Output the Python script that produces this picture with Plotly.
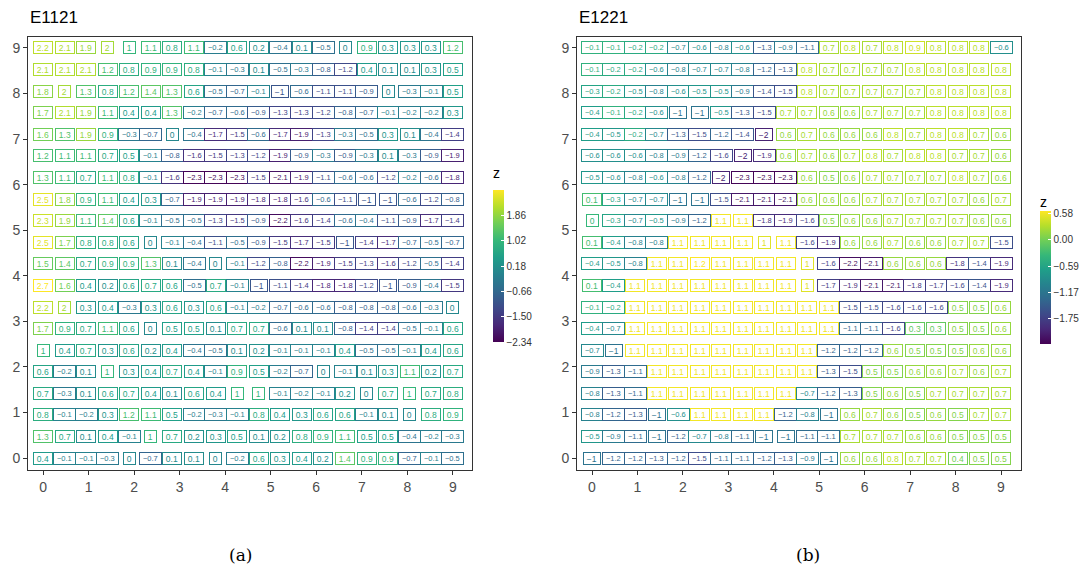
import plotly.graph_objects as go
from plotly.colors import sample_colorscale

# positions of the 20 grid columns / rows (data units)
grid_pos = [0.000, 0.474, 0.947, 1.421, 1.895, 2.368, 2.842, 3.316, 3.789, 4.263,
            4.737, 5.211, 5.684, 6.158, 6.632, 7.105, 7.579, 8.053, 8.526, 9.000]
axis_ticks = [0, 1, 2, 3, 4, 5, 6, 7, 8, 9]

# rows listed from the top (y = 9) to the bottom (y = 0)
e1121 = [
    [2.2, 2.1, 1.9, 2, 1, 1.1, 0.8, 1.1, -0.2, 0.6, 0.2, -0.4, 0.1, -0.5, 0, 0.9, 0.3, 0.3, 0.3, 1.2],
    [2.1, 2.1, 2.1, 1.2, 0.8, 0.9, 0.9, 0.8, -0.1, -0.3, 0.1, -0.5, -0.3, -0.8, -1.2, 0.4, 0.1, 0.1, 0.3, 0.5],
    [1.8, 2, 1.3, 0.8, 1.2, 1.4, 1.3, 0.6, -0.5, -0.7, -0.1, -1, -0.6, -1.1, -1.1, -0.9, 0, -0.3, -0.1, 0.5],
    [1.7, 2.1, 1.9, 1.1, 0.4, 0.4, 1.3, -0.2, -0.7, -0.6, -0.9, -1.3, -1.3, -1.2, -0.8, -0.7, -0.1, -0.2, -0.2, 0.3],
    [1.6, 1.3, 1.9, 0.9, -0.3, -0.7, 0, -0.4, -1.7, -1.5, -0.6, -1.7, -1.9, -1.3, -0.3, -0.5, 0.3, 0.1, -0.4, -1.4],
    [1.2, 1.1, 1.1, 0.7, 0.5, -0.1, -0.8, -1.6, -1.5, -1.3, -1.2, -1.9, -0.9, -0.3, -0.9, -0.3, 0.1, -0.3, -0.9, -1.9],
    [1.3, 1.1, 0.7, 1.1, 0.8, -0.1, -1.6, -2.3, -2.3, -2.3, -1.5, -2.1, -1.9, -1.1, -0.6, -0.6, -1.2, -0.2, -0.6, -1.8],
    [2.5, 1.8, 0.9, 1.1, 0.4, 0.3, -0.7, -1.9, -1.9, -1.9, -1.8, -1.8, -1.6, -0.6, -1.1, -1, -1, -0.6, -1.2, -0.8],
    [2.3, 1.9, 1.1, 1.4, 0.6, -0.1, -0.5, -0.5, -1.3, -1.5, -0.9, -2.2, -1.6, -1.4, -0.6, -0.4, -1.1, -0.9, -1.7, -1.4],
    [2.5, 1.7, 0.8, 0.8, 0.6, 0, -0.1, -0.4, -1.1, -0.5, -0.9, -1.5, -1.7, -1.5, -1, -1.4, -1.7, -0.7, -0.5, -0.7],
    [1.5, 1.4, 0.7, 0.9, 0.9, 1.3, 0.1, -0.4, 0, -0.1, -1.2, -0.8, -2.2, -1.9, -1.5, -1.3, -1.6, -1.2, -0.5, -1.4],
    [2.7, 1.6, 0.4, 0.2, 0.6, 0.7, 0.6, -0.5, 0.7, -0.1, -1, -1.1, -1.4, -1.8, -1.8, -1.2, -1, -0.9, -0.4, -1.5],
    [2.2, 2, 0.3, 0.4, -0.3, 0.3, 0.6, 0.3, 0.6, -0.1, -0.2, -0.7, -0.6, -0.6, -0.8, -0.8, -0.8, -0.6, -0.3, 0],
    [1.7, 0.9, 0.7, 1.1, 0.6, 0, 0.5, 0.5, 0.1, 0.7, 0.7, -0.6, 0.1, 0.1, -0.8, -1.4, -1.4, -0.5, -0.1, 0.6],
    [1, 0.4, 0.7, 0.3, 0.6, 0.2, 0.4, -0.4, -0.5, 0.1, 0.2, -0.1, -0.1, -0.1, 0.4, -0.5, -0.5, -0.1, 0.4, 0.6],
    [0.6, -0.2, 0.1, 1, 0.3, 0.4, 0.7, 0.4, -0.1, 0.9, 0.5, -0.2, -0.7, 0, -0.1, 0.1, 0.3, 1.1, 0.2, 0.7],
    [0.7, -0.3, 0.1, 0.6, 0.7, 0.4, 0.1, 0.6, 0.4, 1, 1, -0.1, -0.2, -0.1, 0.2, 0, 0.7, 1, 0.7, 0.8],
    [0.8, -0.1, -0.2, 0.3, 1.2, 1.1, 0.5, -0.2, -0.3, -0.1, 0.8, 0.4, 0.3, 0.6, 0.6, -0.1, 0.1, 0, 0.8, 0.9],
    [1.3, 0.7, 0.1, 0.4, -0.1, 1, 0.7, 0.2, 0.3, 0.5, 0.1, 0.2, 0.8, 0.9, 1.1, 0.5, 0.5, -0.4, -0.2, -0.3],
    [0.4, -0.1, -0.1, -0.3, 0, -0.7, 0.1, 0.1, 0, -0.2, 0.6, 0.3, 0.4, 0.2, 1.4, 0.9, 0.9, -0.7, -0.1, -0.5],
]

e1221 = [
    [-0.1, -0.1, -0.2, -0.2, -0.7, -0.6, -0.8, -0.6, -1.3, -0.9, -1.1, 0.7, 0.8, 0.7, 0.8, 0.9, 0.8, 0.8, 0.8, -0.6],
    [-0.1, -0.2, -0.2, -0.6, -0.8, -0.7, -0.7, -0.8, -1.2, -1.3, 0.8, 0.7, 0.7, 0.7, 0.7, 0.8, 0.8, 0.8, 0.8, 0.8],
    [-0.3, -0.2, -0.5, -0.8, -0.6, -0.5, -0.5, -0.9, -1.4, -1.5, 0.8, 0.7, 0.7, 0.7, 0.7, 0.7, 0.8, 0.8, 0.8, 0.8],
    [-0.4, -0.1, -0.2, -0.6, -1, -1, -0.5, -1.3, -1.5, 0.7, 0.7, 0.6, 0.6, 0.7, 0.7, 0.7, 0.8, 0.8, 0.8, 0.8],
    [-0.4, -0.5, -0.2, -0.7, -1.3, -1.5, -1.2, -1.4, -2, 0.6, 0.7, 0.6, 0.6, 0.6, 0.8, 0.7, 0.8, 0.8, 0.7, 0.6],
    [-0.6, -0.6, -0.6, -0.8, -0.9, -1.2, -1.6, -2, -1.9, 0.6, 0.7, 0.6, 0.7, 0.8, 0.7, 0.8, 0.8, 0.7, 0.7, 0.6],
    [-0.5, -0.6, -0.8, -0.6, -0.8, -1.2, -2, -2.3, -2.3, -2.3, 0.6, 0.5, 0.6, 0.7, 0.7, 0.7, 0.7, 0.8, 0.7, 0.6],
    [0.1, -0.3, -0.7, -0.7, -1, -1, -1.5, -2.1, -2.1, -2.1, 0.6, 0.6, 0.6, 0.7, 0.7, 0.7, 0.7, 0.7, 0.6, 0.7],
    [0, -0.3, -0.7, -0.5, -0.9, -1.2, 1.1, 1.1, -1.8, -1.9, -1.6, 0.5, 0.6, 0.6, 0.7, 0.7, 0.7, 0.7, 0.6, 0.6],
    [0.1, -0.4, -0.8, -0.8, 1.1, 1.1, 1.1, 1.1, 1, 1.1, -1.6, -1.9, 0.6, 0.6, 0.7, 0.6, 0.6, 0.7, 0.7, -1.5],
    [-0.4, -0.5, -0.8, 1.1, 1.1, 1.2, 1.1, 1.1, 1.1, 1.1, 1, -1.6, -2.2, -2.1, 0.6, 0.6, 0.6, -1.8, -1.4, -1.9],
    [0.1, -0.4, 1.1, 1.1, 1.1, 1.1, 1.1, 1.1, 1.1, 1.1, 1, -1.7, -1.9, -2.1, -2.1, -1.8, -1.7, -1.6, -1.4, -1.9],
    [-0.1, -0.2, 1.1, 1.1, 1.1, 1.1, 1.1, 1.1, 1.1, 1.1, 1.1, 1.1, -1.5, -1.5, -1.6, -1.6, -1.6, 0.5, 0.5, 0.6],
    [-0.4, -0.7, 1.1, 1.1, 1.1, 1.1, 1.1, 1.1, 1.1, 1.1, 1.1, 1.1, -1.1, -1.1, -1.6, 0.3, 0.3, 0.5, 0.5, 0.6],
    [-0.7, -1, 1.1, 1.1, 1.1, 1.1, 1.1, 1.1, 1.1, 1.1, 1.1, -1.2, -1.2, -1.2, 0.6, 0.5, 0.5, 0.5, 0.6, 0.6],
    [-0.9, -1.3, -1.1, 1.1, 1.1, 1.1, 1.1, 1.1, 1.1, 1.1, 1.1, -1.3, -1.5, 0.5, 0.5, 0.6, 0.6, 0.7, 0.6, 0.7],
    [-0.8, -1.3, -1.1, 1.1, 1.1, 1.1, 1.1, 1.1, 1.1, 1.1, -0.7, -1.2, -1.3, 0.5, 0.6, 0.5, 0.7, 0.7, 0.7, 0.7],
    [-0.8, -1.2, -1.3, -1, -0.6, 1.1, 1.1, 1.1, 1.1, -1.2, -0.8, -1, 0.6, 0.7, 0.6, 0.5, 0.6, 0.5, 0.7, 0.7],
    [-0.5, -0.9, -1.1, -1, -1.2, -0.7, -0.8, -1.1, -1, -1, -1.1, -1.1, 0.7, 0.7, 0.7, 0.6, 0.6, 0.5, 0.5, 0.5],
    [-1, -1.2, -1.2, -1.3, -1.2, -1.5, -1.1, -1.1, -1.2, -1.3, -0.9, -1, 0.6, 0.6, 0.8, 0.7, 0.7, 0.4, 0.5, 0.5],
]

# colour limits of the cells
e1121_limits = [-2.34, 2.70]
e1221_limits = [-2.33, 1.16]
# value span shown by each colour bar
e1121_bar_span = [-2.34, 2.70]
e1221_bar_span = [-2.33, 0.64]
e1121_cbar_ticks = [1.86, 1.02, 0.18, -0.66, -1.50, -2.34]
e1221_cbar_ticks = [0.58, 0.00, -0.59, -1.17, -1.75]

W, H = 1084, 577
MINUS = "\u2212"
FONT = "Liberation Sans"


def fmt(v):
    s = f"{v:.1f}"
    if s.endswith(".0"):
        s = s[:-2]
    if s == "-0":
        s = "0"
    return s.replace("-", MINUS)


def text_w(s, size):
    w = 0.0
    for ch in s:
        if ch == ".":
            w += 0.278
        elif ch == MINUS:
            w += 0.584
        else:
            w += 0.556
    return w * size


def px(xp):
    return xp / W


def py(yp):
    return 1 - yp / H


fig = go.Figure()
annotations = []

panels = [
    (e1121, e1121_limits, "x", "y"),
    (e1221, e1221_limits, "x2", "y2"),
]
for rows, (lo, hi), xr, yr in panels:
    n = len(rows)
    for r, row in enumerate(rows):
        yv = grid_pos[n - 1 - r]
        for c, v in enumerate(row):
            xv = grid_pos[c]
            t = min(1.0, max(0.0, (v - lo) / (hi - lo)))
            col = sample_colorscale("Viridis", [t])[0]
            s = fmt(v)
            size = 7.5 if len(s) >= 4 else 8.5
            annotations.append(dict(
                x=xv, y=yv, xref=xr, yref=yr, text=s, showarrow=False,
                xanchor="center", yanchor="middle",
                font=dict(family=FONT, size=size, color=col),
                bordercolor=col, borderwidth=1, borderpad=1, bgcolor="white",
                width=text_w(s, size) + 4, height=9,
            ))

# colour-bar carrier traces
cbars = [
    (e1121_bar_span, e1121_cbar_ticks, "x", "y", 493, 190, 342),
    (e1221_bar_span, e1221_cbar_ticks, "x2", "y2", 1040, 211, 344),
]
for (lo, hi), ticks, xr, yr, cx, top, bot in cbars:
    fig.add_trace(go.Scatter(
        x=[grid_pos[0]], y=[grid_pos[0]], xaxis=xr, yaxis=yr, mode="markers",
        hoverinfo="skip", showlegend=False,
        marker=dict(size=1, opacity=0, color=[lo], colorscale="Viridis", cmin=lo, cmax=hi,
                    showscale=True,
                    colorbar=dict(x=px(cx), xanchor="left", y=py((top + bot) / 2), yanchor="middle",
                                  len=(bot - top) / H, lenmode="fraction", thickness=11,
                                  xpad=0, ypad=0, outlinewidth=0,
                                  tickvals=ticks, ticktext=[f"{t:.2f}".replace("-", MINUS) for t in ticks],
                                  ticks="inside", ticklen=3, tickcolor="white",
                                  tickfont=dict(family=FONT, size=10, color="#333333"))),
    ))

axis_common = dict(showgrid=False, zeroline=False, showline=True, mirror=True,
                   linecolor="#333333", linewidth=1, ticks="outside", ticklen=4,
                   tickcolor="#333333", tickvals=axis_ticks,
                   tickfont=dict(family=FONT, size=14, color="#4D4D4D"))

fig.update_layout(
    width=W, height=H, margin=dict(l=0, r=0, t=0, b=0),
    paper_bgcolor="white", plot_bgcolor="white", showlegend=False,
    xaxis=dict(domain=[px(28), px(472)], range=[-0.33, 9.42], anchor="y", **axis_common),
    yaxis=dict(domain=[py(470), py(37)], range=[-0.26, 9.24], anchor="x", **axis_common),
    xaxis2=dict(domain=[px(577), px(1021)], range=[-0.33, 9.44], anchor="y2", **axis_common),
    yaxis2=dict(domain=[py(470), py(37)], range=[-0.26, 9.24], anchor="x2", **axis_common),
)

texts = [
    ("E1121", 28, 18, "left", dict(family=FONT, size=17, color="black")),
    ("E1221", 577, 18, "left", dict(family=FONT, size=17, color="black")),
    ("z", 496, 173, "center", dict(family=FONT, size=14, color="black")),
    ("z", 1043, 202, "center", dict(family=FONT, size=14, color="black")),
    ("(a)", 240, 555, "center", dict(family="DejaVu Serif", size=17, color="black")),
    ("(b)", 808, 555, "center", dict(family="DejaVu Serif", size=17, color="black")),
]
for t, x, y, xa, f in texts:
    annotations.append(dict(text=t, x=px(x), y=py(y), xref="paper", yref="paper",
                            xanchor=xa, yanchor="middle", showarrow=False, font=f))

fig.update_layout(annotations=annotations)
fig.write_html("out.html")
